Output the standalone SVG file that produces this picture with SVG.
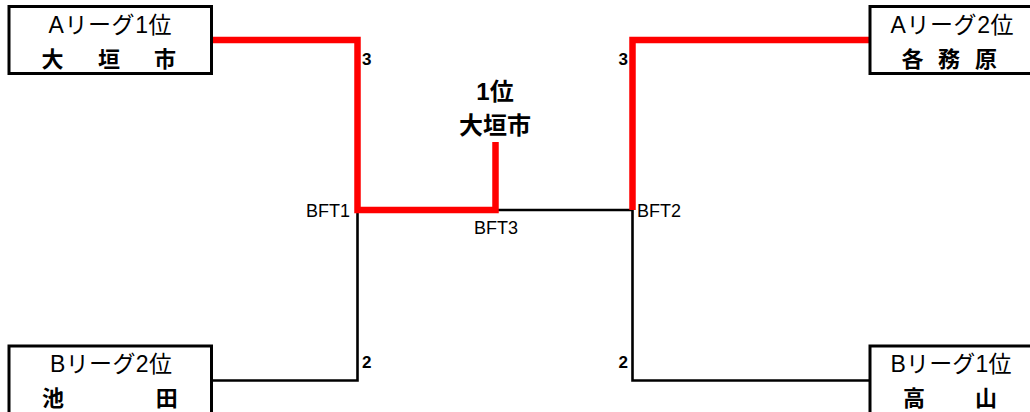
<svg xmlns="http://www.w3.org/2000/svg" width="1030" height="412" viewBox="0 0 1030 412">
<style>
.box{fill:#fff;stroke:#000;stroke-width:3}
.lg{font-family:"Liberation Sans","Noto Sans CJK JP",sans-serif;font-size:23px;fill:#000;text-anchor:middle}
.nm{font-family:"Liberation Sans","Noto Sans CJK JP",sans-serif;font-size:22px;font-weight:bold;fill:#000;text-anchor:middle}
.win{font-family:"Liberation Sans","Noto Sans CJK JP",sans-serif;font-size:24px;font-weight:bold;fill:#000;text-anchor:middle}
.bft{font-family:"Liberation Sans","Noto Sans CJK JP",sans-serif;font-size:18px;fill:#000}
.sc{font-family:"Liberation Sans",sans-serif;font-size:17px;font-weight:bold;fill:#000}
.red{fill:none;stroke:#ff0000;stroke-width:6.5;stroke-linejoin:miter;stroke-linecap:butt}
.blk{fill:none;stroke:#000;stroke-width:2.6;stroke-linecap:butt}
</style>
<rect width="1030" height="412" fill="#fff"/>
<g id="connectors">
<path class="blk" d="M498 210 H632.5"/>
<path class="blk" d="M357.5 210 V380.5 H211"/>
<path class="blk" d="M632.5 210 V380.5 H870"/>
<path class="red" d="M211 40 H357.5 V210 H495.5 V142"/>
<path class="red" d="M870 40 H632.5 V210"/>
</g>
<g id="node-a1">
<rect class="box" x="9" y="6.5" width="202.5" height="67"/>
<text class="lg" x="110" y="32.5" textLength="123">Aリーグ1位</text>
<text class="nm" x="52.5 109 165" y="66.5">大垣市</text>
</g>
<g id="node-a2">
<rect class="box" x="870" y="6.5" width="165" height="67"/>
<text class="lg" x="952" y="32.5" textLength="123">Aリーグ2位</text>
<text class="nm" x="912.5 949 986" y="66.5">各務原</text>
</g>
<g id="node-b2">
<rect class="box" x="9" y="346" width="202.5" height="80"/>
<text class="lg" x="111" y="371.5" textLength="122">Bリーグ2位</text>
<text class="nm" x="53 166.7" y="405.5">池田</text>
</g>
<g id="node-b1">
<rect class="box" x="870" y="346" width="165" height="80"/>
<text class="lg" x="951" y="371.5" textLength="121">Bリーグ1位</text>
<text class="nm" x="914 986" y="405.5">高山</text>
</g>
<g id="labels">
<text class="sc" x="362" y="65">3</text>
<text class="sc" x="628" y="65" text-anchor="end">3</text>
<text class="sc" x="362" y="368">2</text>
<text class="sc" x="628" y="368" text-anchor="end">2</text>
<text class="bft" x="350" y="216.5" text-anchor="end">BFT1</text>
<text class="bft" x="637" y="216.5">BFT2</text>
<text class="bft" x="496" y="234" text-anchor="middle">BFT3</text>
</g>
<g id="node-winner">
<text class="win" x="495" y="100">1位</text>
<text class="win" x="495" y="133.5">大垣市</text>
</g>
</svg>
